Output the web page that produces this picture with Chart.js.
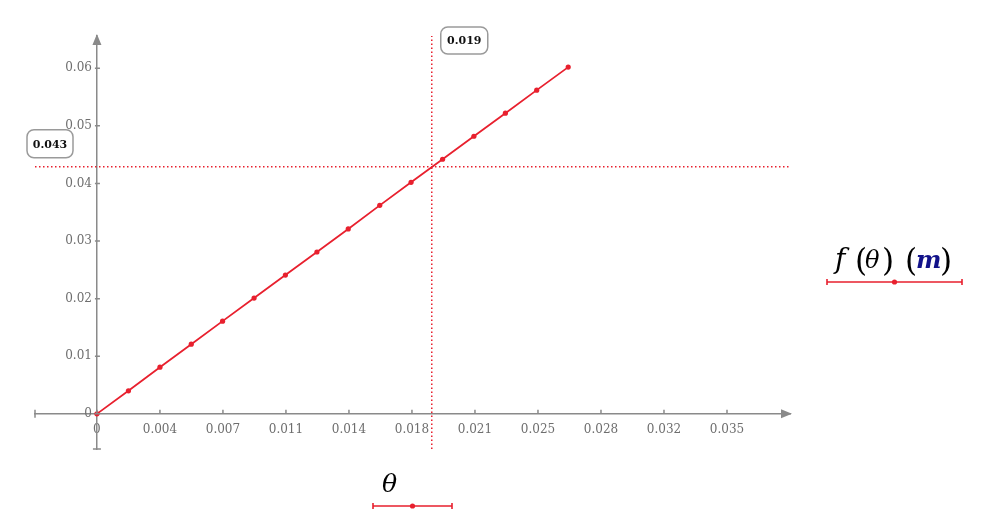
<!DOCTYPE html>
<html>
<head>
<meta charset="utf-8">
<script src="https://cdn.jsdelivr.net/npm/chart.js@4.4.1/dist/chart.umd.min.js"></script>
<style>
  html, body { margin:0; padding:0; background:#fff; }
  canvas { display:block; }
</style>
</head>
<body>
<canvas id="chart" width="999" height="519"></canvas>
<script>
// theta (rad) and f(theta) (m)
const thetaValues = [0, 0.00175, 0.0035, 0.00524, 0.00698, 0.00873, 0.01047, 0.01222, 0.01396, 0.01571, 0.01745, 0.0192, 0.02094, 0.02269, 0.02443, 0.02618]
const fValues = [0, 0.0040, 0.0081, 0.0121, 0.0161, 0.0201, 0.0241, 0.0281, 0.0321, 0.0362, 0.0402, 0.0442, 0.0482, 0.0522, 0.0562, 0.0602]

const xTicks = [0, 0.0035, 0.007, 0.0105, 0.014, 0.0175, 0.021, 0.0245, 0.028, 0.0315, 0.035]
const xTickLabels = ["0", "0.004", "0.007", "0.011", "0.014", "0.018", "0.021", "0.025", "0.028", "0.032", "0.035"]
const yTicks = [0, 0.01, 0.02, 0.03, 0.04, 0.05, 0.06]
const yTickLabels = ["0", "0.01", "0.02", "0.03", "0.04", "0.05", "0.06"]

// marker lines
const markX = 0.0186
const markY = 0.0429
const markXLabel = "0.019"
const markYLabel = "0.043"

const xRange = [-0.00344, 0.0385]
const yRange = [-0.0061, 0.0656]

const RED = "#e8202e"
const AXIS = "#8a8a8a"
const SERIF = '"DejaVu Serif", serif'

const points = thetaValues.map((t, i) => ({ x: t, y: fValues[i] }))

// glyphs placed one by one, math style
function glyphs(ctx, parts) {
    parts.forEach(p => {
        ctx.font = p.font
        ctx.fillStyle = p.color || "#000"
        ctx.fillText(p.t, p.x, p.y)
    })
}

function legendLine(ctx, x1, x2, y) {
    ctx.save()
    ctx.strokeStyle = RED
    ctx.fillStyle = RED
    ctx.lineWidth = 1.6
    ctx.beginPath()
    ctx.moveTo(x1, y); ctx.lineTo(x2, y)
    ctx.moveTo(x1, y - 3); ctx.lineTo(x1, y + 3)
    ctx.moveTo(x2, y - 3); ctx.lineTo(x2, y + 3)
    ctx.stroke()
    ctx.beginPath()
    ctx.arc((x1 + x2) / 2, y, 2.6, 0, Math.PI * 2)
    ctx.fill()
    ctx.restore()
}

function labelBox(ctx, text, x, y, w, h) {
    ctx.save()
    ctx.beginPath()
    ctx.roundRect(x, y, w, h, 7)
    ctx.fillStyle = "#fff"
    ctx.fill()
    ctx.strokeStyle = "#9a9a9a"
    ctx.lineWidth = 1.5
    ctx.stroke()
    ctx.fillStyle = "#111"
    ctx.font = "bold 11px " + SERIF
    ctx.textAlign = "center"
    ctx.textBaseline = "middle"
    ctx.fillText(text, x + w / 2, y + h / 2 + 1)
    ctx.restore()
}

const decor = {
    id: "decor",
    beforeDraw(chart) {
        // y labels sit on the axis line itself when positioned by value, push them left
        const items = chart.scales.y.getLabelItems(chart.chartArea)
        if (!items._shifted) {
            items.forEach(it => { it.options.translation[0] -= 5 })
            items._shifted = true
        }
    },
    afterDraw(chart) {
        const ctx = chart.ctx
        const xs = chart.scales.x, ys = chart.scales.y
        const x0 = xs.getPixelForValue(0), y0 = ys.getPixelForValue(0)
        const area = chart.chartArea
        ctx.save()
        ctx.strokeStyle = AXIS
        ctx.fillStyle = AXIS
        ctx.lineWidth = 1.5
        ctx.beginPath()
        // tick marks
        xTicks.forEach(v => {
            const px = xs.getPixelForValue(v)
            ctx.moveTo(px, y0); ctx.lineTo(px, y0 - 4)
        })
        yTicks.forEach(v => {
            const py = ys.getPixelForValue(v)
            ctx.moveTo(x0 - 2, py); ctx.lineTo(x0 + 3, py)
        })
        // end caps
        ctx.moveTo(area.left, y0 - 4); ctx.lineTo(area.left, y0 + 4)
        ctx.moveTo(x0 - 4, area.bottom); ctx.lineTo(x0 + 4, area.bottom)
        ctx.stroke()
        // arrows
        ctx.beginPath()
        ctx.moveTo(x0, area.top - 2); ctx.lineTo(x0 - 4.5, area.top + 9); ctx.lineTo(x0 + 4.5, area.top + 9)
        ctx.closePath()
        ctx.moveTo(area.right + 2, y0); ctx.lineTo(area.right - 9, y0 - 4.5); ctx.lineTo(area.right - 9, y0 + 4.5)
        ctx.closePath()
        ctx.fill()
        ctx.restore()

        // value boxes on the marker lines
        const mx = xs.getPixelForValue(markX), my = ys.getPixelForValue(markY)
        labelBox(ctx, markYLabel, area.left - 8, my - 37, 46, 28)
        labelBox(ctx, markXLabel, mx + 9, area.top - 9, 47, 27)

        // legend
        ctx.save()
        ctx.textBaseline = "alphabetic"
        ctx.textAlign = "left"
        const par = "31px " + SERIF
        glyphs(ctx, [
            { t: "f", font: "italic 28px " + SERIF, x: 835, y: 268 },
            { t: "(", font: par, x: 855, y: 271 },
            { t: "θ", font: "italic 24px " + SERIF, x: 865, y: 268 },
            { t: ")", font: par, x: 882, y: 271 },
            { t: "(", font: par, x: 905, y: 271 },
            { t: "m", font: "bold italic 24px " + SERIF, color: "#12128a", x: 916, y: 268 },
            { t: ")", font: par, x: 940, y: 271 },
            { t: "θ", font: "italic 25px " + SERIF, x: 382, y: 492 }
        ])
        ctx.restore()
        legendLine(ctx, 827, 962, 282)
        legendLine(ctx, 373, 452, 506)
    }
}

new Chart(document.getElementById("chart"), {
    type: "scatter",
    data: {
        datasets: [
            {
                label: "f(θ)",
                data: points,
                showLine: true,
                borderColor: RED,
                borderWidth: 1.8,
                backgroundColor: RED,
                pointRadius: 2.6,
                pointBorderWidth: 0,
                pointBackgroundColor: RED
            },
            {
                data: [{ x: xRange[0], y: markY }, { x: xRange[1], y: markY }],
                showLine: true,
                borderColor: RED,
                borderWidth: 1.5,
                borderDash: [1.5, 2.5],
                pointRadius: 0
            },
            {
                data: [{ x: markX, y: yRange[0] }, { x: markX, y: yRange[1] }],
                showLine: true,
                borderColor: RED,
                borderWidth: 1.5,
                borderDash: [1.5, 2.5],
                pointRadius: 0
            }
        ]
    },
    options: {
        responsive: false,
        animation: false,
        devicePixelRatio: 1,
        layout: { padding: { left: 35, right: 209, top: 36, bottom: 70 } },
        plugins: { legend: { display: false }, tooltip: { enabled: false } },
        scales: {
            x: {
                type: "linear",
                position: { y: 0 },
                min: xRange[0],
                max: xRange[1],
                afterBuildTicks: s => { s.ticks = xTicks.map(v => ({ value: v })) },
                ticks: {
                    callback: (v, i) => xTickLabels[i],
                    padding: 9,
                    autoSkip: false,
                    maxRotation: 0,
                    color: "#6e6e6e",
                    font: { family: SERIF, size: 12 }
                },
                grid: { display: false, drawTicks: false },
                border: { color: AXIS, width: 1.5 }
            },
            y: {
                type: "linear",
                position: { x: 0 },
                min: yRange[0],
                max: yRange[1],
                afterBuildTicks: s => { s.ticks = yTicks.map(v => ({ value: v })) },
                ticks: {
                    callback: (v, i) => yTickLabels[i],
                    autoSkip: false,
                    color: "#6e6e6e",
                    font: { family: SERIF, size: 12 }
                },
                grid: { display: false, drawTicks: false },
                border: { color: AXIS, width: 1.5 }
            }
        }
    },
    plugins: [decor]
})
</script>
</body>
</html>
